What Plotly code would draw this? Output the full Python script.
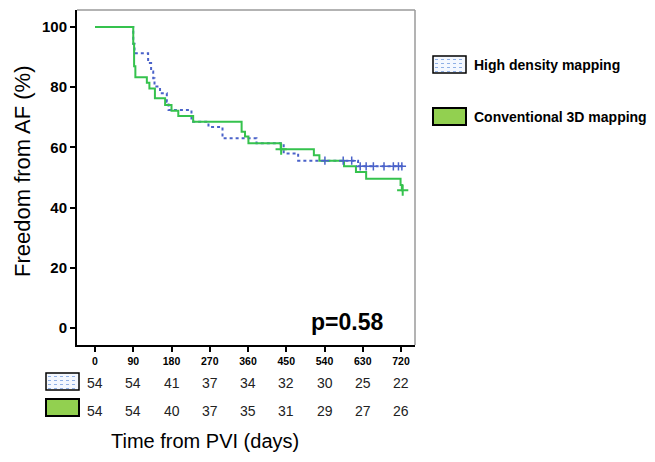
import plotly.graph_objects as go

# ---- data ----
hd_days = [0, 90, 93, 125, 132, 137, 140, 153, 169, 173, 227, 267, 300, 380, 444, 478, 619, 725]
hd_surv = [100, 94.4, 91.3, 88.0, 85.2, 83.0, 80.2, 78.0, 75.2, 72.4, 68.5, 66.8, 63.0, 61.4, 58.0, 55.6, 53.7, 53.7]
hd_cens_days = [541, 584, 604, 624, 638, 655, 680, 702, 714, 722]
hd_cens_surv = [55.6, 55.6, 55.6, 53.7, 53.7, 53.7, 53.7, 53.7, 53.7, 53.7]

cv_days = [0, 90, 92, 95, 122, 128, 141, 165, 180, 196, 231, 345, 353, 361, 437, 515, 528, 586, 614, 638, 719, 722, 724]
cv_surv = [100, 94.4, 87.0, 83.3, 81.5, 79.6, 76.3, 74.1, 72.2, 70.4, 68.5, 65.2, 63.6, 61.4, 59.4, 57.4, 55.6, 53.7, 51.8, 49.6, 47.5, 45.8, 45.8]
cv_cens_days = [438, 724]
cv_cens_surv = [59.4, 45.8]

risk_days = [0, 90, 180, 270, 360, 450, 540, 630, 720]
hd_risk = [54, 54, 41, 37, 34, 32, 30, 25, 22]
cv_risk = [54, 54, 40, 37, 35, 31, 29, 27, 26]
y_ticks = [0, 20, 40, 60, 80, 100]

series_names = ["High density mapping", "Conventional 3D mapping"]
p_text = "p=0.58"

BLUE = "#4a62c9"
GREEN = "#35c24d"
FILL_GREEN = "#92d050"
FONT = "Arial, Liberation Sans, sans-serif"

# page body has an 8px margin; work in reference-image pixels and shift
OFF = 8
W, H = 655 - OFF, 462 - OFF
L, R, T, B = 77, 415, 10, 345   # plot box in reference pixels


def px(x):
    return (x - L) / (R - L)


def py(y):
    return (B - y) / (B - T)


fig = go.Figure()
fig.add_trace(go.Scatter(x=hd_days, y=hd_surv, mode="lines", line_shape="hv",
                         line=dict(color=BLUE, width=2, dash="dot"), showlegend=False))
fig.add_trace(go.Scatter(x=cv_days, y=cv_surv, mode="lines", line_shape="hv",
                         line=dict(color=GREEN, width=2), showlegend=False))
fig.add_trace(go.Scatter(x=hd_cens_days, y=hd_cens_surv, mode="markers",
                         marker=dict(symbol="cross-thin", size=6, line=dict(color=BLUE, width=1.5)),
                         showlegend=False))
fig.add_trace(go.Scatter(x=cv_cens_days, y=cv_cens_surv, mode="markers",
                         marker=dict(symbol="cross-thin", size=8, line=dict(color=GREEN, width=2)),
                         showlegend=False))

shapes = []
annotations = []

# top and right gray frame lines
shapes.append(dict(type="line", xref="paper", yref="paper", x0=0, x1=1, y0=1, y1=1,
                   line=dict(color="#9a9a9a", width=1.5)))
shapes.append(dict(type="line", xref="paper", yref="paper", x0=1, x1=1, y0=0, y1=1,
                   line=dict(color="#9a9a9a", width=1.5)))


def pattern_box(x0, y0, x1, y1):
    shapes.append(dict(type="rect", xref="paper", yref="paper",
                       x0=px(x0), x1=px(x1), y0=py(y1), y1=py(y0),
                       fillcolor="#f4f8ff", line=dict(color="black", width=1.5)))
    yy = y0 + 3.5
    while yy < y1 - 1:
        shapes.append(dict(type="line", xref="paper", yref="paper",
                           x0=px(x0 + 2), x1=px(x1 - 2), y0=py(yy), y1=py(yy),
                           line=dict(color="#8fb0e6", width=1, dash="dot")))
        yy += 4


def green_box(x0, y0, x1, y1):
    shapes.append(dict(type="rect", xref="paper", yref="paper",
                       x0=px(x0), x1=px(x1), y0=py(y1), y1=py(y0),
                       fillcolor=FILL_GREEN, line=dict(color="black", width=2)))


# right legend
pattern_box(433, 56, 466, 73)
green_box(433, 108, 466, 125)
annotations.append(dict(xref="paper", yref="paper", x=px(472), y=py(65), xanchor="left", yanchor="middle",
                        text="<b>%s</b>" % series_names[0], showarrow=False,
                        font=dict(family=FONT, size=14, color="black")))
annotations.append(dict(xref="paper", yref="paper", x=px(472), y=py(117), xanchor="left", yanchor="middle",
                        text="<b>%s</b>" % series_names[1], showarrow=False,
                        font=dict(family=FONT, size=14, color="black")))

# at-risk rows
pattern_box(46, 373, 79, 390)
green_box(46, 399, 79, 416)
for d, a, b in zip(risk_days, hd_risk, cv_risk):
    annotations.append(dict(xref="x", yref="paper", x=d, y=py(383), xanchor="center", yanchor="middle",
                            text=str(a), showarrow=False, font=dict(family=FONT, size=14, color="#222")))
    annotations.append(dict(xref="x", yref="paper", x=d, y=py(411), xanchor="center", yanchor="middle",
                            text=str(b), showarrow=False, font=dict(family=FONT, size=14, color="#222")))

# p value
annotations.append(dict(xref="paper", yref="paper", x=px(347), y=py(322), xanchor="center", yanchor="middle",
                        text="<b>%s</b>" % p_text, showarrow=False,
                        font=dict(family=FONT, size=23, color="black")))

# axis titles
annotations.append(dict(xref="paper", yref="paper", x=px(22), y=py(172), xanchor="center", yanchor="middle",
                        text="Freedom from AF (%)", textangle=-90, showarrow=False,
                        font=dict(family=FONT, size=22, color="black")))
annotations.append(dict(xref="paper", yref="paper", x=px(205), y=py(441), xanchor="center", yanchor="middle",
                        text="Time from PVI (days)", showarrow=False,
                        font=dict(family=FONT, size=20, color="black")))

x0d = (L - 95) / 0.425
x1d = (R - 95) / 0.425
yv0 = 100 - (B - 27) / 3.01
yv1 = 100 - (T - 27) / 3.01

fig.update_layout(
    width=W, height=H,
    margin=dict(l=L - OFF, r=655 - R, t=T - OFF, b=462 - B),
    paper_bgcolor="white", plot_bgcolor="white",
    shapes=shapes, annotations=annotations,
    xaxis=dict(range=[x0d, x1d], tickvals=risk_days, ticktext=["<b>%d</b>" % d for d in risk_days],
               showgrid=False, zeroline=False, showline=True, linecolor="black", linewidth=2,
               ticks="outside", ticklen=5, tickwidth=1.5, tickcolor="black",
               tickfont=dict(family=FONT, size=10.5, color="black")),
    yaxis=dict(range=[yv0, yv1], tickvals=y_ticks, ticktext=["<b>%d</b>" % v for v in y_ticks],
               showgrid=False, zeroline=False, showline=True, linecolor="black", linewidth=2,
               ticks="outside", ticklen=5, tickwidth=1.5, tickcolor="black",
               tickfont=dict(family=FONT, size=15, color="black")),
)

fig.write_html("out.html")
